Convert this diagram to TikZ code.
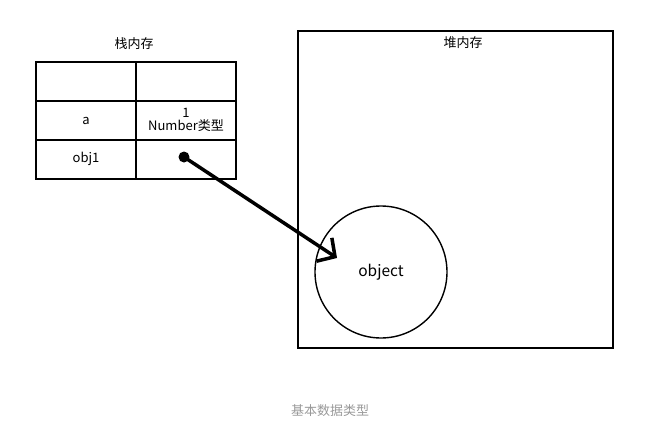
\documentclass[tikz,border=0pt]{standalone}
\usepackage{fontspec}
\setmainfont{Noto Sans CJK SC}
\usetikzlibrary{arrows.meta}
\definecolor{capgrey}{HTML}{999999}
\tikzset{
  tbl/.style={line width=2pt},
  heapbox/.style={line width=1.4pt},
  lbl/.style={font=\fontsize{13}{14}\selectfont, inner sep=0pt},
  ptr/.style={line width=3.5pt, -{Straight Barb[length=13pt 0 0, width=28pt 0 0, line cap=butt]}},
}
\begin{document}
\begin{tikzpicture}[x=1pt,y=-1pt]
\useasboundingbox (0,0) rectangle (665,426);
% stack table
\draw[tbl] (36,62) rectangle (236,179);
\draw[tbl] (136,62) -- (136,179);
\draw[tbl] (36,101) -- (236,101);
\draw[tbl] (36,140) -- (236,140);
\node[lbl] (stacktitle) at (134,44) {栈内存};
\node[lbl] (va) at (86,121) {a};
\node[lbl, align=center, font=\fontsize{13}{12.5}\selectfont] (v1) at (186,120) {1\\Number类型};
\node[lbl] (vobj) at (86,159) {obj1};
% heap
\draw[heapbox] (298,31) rectangle (613,348);
\node[lbl] (heaptitle) at (463,43) {堆内存};
\node[draw, circle, line width=1.4pt, minimum size=132pt, inner sep=0pt, font=\fontsize{15.5}{16}\selectfont] (obj) at (381,272) {object};
% pointer
\node[circle, fill=black, minimum size=11pt, inner sep=0pt] (dot) at (184,157) {};
\coordinate (tip) at (337,258);
\draw[ptr] (dot.center) -- (tip);
% caption
\node[lbl, text=capgrey] (cap) at (330,411) {基本数据类型};
\end{tikzpicture}
\end{document}
